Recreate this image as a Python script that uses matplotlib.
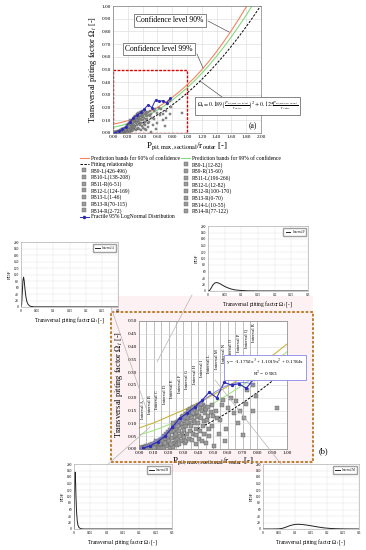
import matplotlib.pyplot as plt
import numpy as np
from matplotlib.lines import Line2D
from matplotlib.patches import Rectangle

plt.rcParams['font.family'] = ['Liberation Serif', 'DejaVu Serif']
plt.rcParams['mathtext.fontset'] = 'stix'

W, H = 366, 550

# ---- data ----
series_left = ['PB9-L(426-496)', 'PB10-L(138-208)', 'PB11-R(6-51)', 'PB12-L(124-169)',
               'PB13-L(1-46)', 'PB13-R(70-115)', 'PB14-R(2-72)']
series_right = ['PB9-L(12-82)', 'PB9-R(15-60)', 'PB11-L(196-266)', 'PB12-L(12-82)',
                'PB12-R(100-170)', 'PB13-R(0-70)', 'PB14-L(10-55)', 'PB14-R(77-122)']

pit_x = [0.005, 0.01, 0.015, 0.02, 0.025, 0.03, 0.035, 0.04, 0.045, 0.012, 0.028, 0.038, 0.048,
         0.055, 0.06, 0.065, 0.07, 0.075, 0.08, 0.085, 0.09, 0.095, 0.058, 0.072, 0.088, 0.098,
         0.105, 0.11, 0.115, 0.12, 0.125, 0.13, 0.135, 0.14, 0.145, 0.102, 0.118, 0.132, 0.148, 0.142,
         0.152, 0.155, 0.16, 0.165, 0.17, 0.175, 0.18, 0.185, 0.19, 0.195, 0.158, 0.172, 0.188, 0.198, 0.178,
         0.202, 0.205, 0.21, 0.215, 0.22, 0.225, 0.23, 0.235, 0.24, 0.245, 0.208, 0.228, 0.238, 0.248, 0.218, 0.232,
         0.252, 0.255, 0.26, 0.265, 0.27, 0.275, 0.28, 0.285, 0.29, 0.295, 0.258, 0.268, 0.278, 0.288, 0.298,
         0.272, 0.262, 0.292,
         0.302, 0.305, 0.31, 0.315, 0.32, 0.325, 0.33, 0.335, 0.34, 0.345, 0.308, 0.318, 0.328, 0.338, 0.348,
         0.312, 0.342, 0.322,
         0.352, 0.355, 0.36, 0.365, 0.37, 0.375, 0.38, 0.385, 0.39, 0.395, 0.358, 0.368, 0.378, 0.388, 0.398,
         0.362, 0.382,
         0.402, 0.405, 0.41, 0.415, 0.42, 0.425, 0.43, 0.435, 0.44, 0.445, 0.408, 0.418, 0.428, 0.438, 0.448,
         0.455, 0.46, 0.465, 0.47, 0.475, 0.49, 0.485, 0.495, 0.452, 0.468,
         0.51, 0.52, 0.53, 0.55, 0.56, 0.58, 0.59, 0.60, 0.62, 0.64, 0.655, 0.67, 0.68, 0.70, 0.71, 0.72,
         0.73, 0.77, 0.77, 0.79, 0.93, 0.50, 0.54, 0.57]
pit_y = [0.000, 0.002, 0.001, 0.004, 0.002, 0.006, 0.003, 0.008, 0.004, 0.005, 0.001, 0.002, 0.010,
         0.006, 0.012, 0.003, 0.009, 0.016, 0.005, 0.012, 0.020, 0.008, 0.001, 0.002, 0.003, 0.015,
         0.010, 0.022, 0.004, 0.015, 0.028, 0.008, 0.020, 0.035, 0.012, 0.002, 0.030, 0.003, 0.026, 0.005,
         0.018, 0.040, 0.008, 0.030, 0.050, 0.015, 0.038, 0.060, 0.022, 0.045, 0.002, 0.004, 0.010, 0.068, 0.025,
         0.030, 0.055, 0.075, 0.012, 0.042, 0.065, 0.085, 0.025, 0.050, 0.090, 0.004, 0.008, 0.070, 0.035, 0.020, 0.100,
         0.060, 0.080, 0.105, 0.040, 0.070, 0.095, 0.115, 0.030, 0.060, 0.085, 0.015, 0.110, 0.050, 0.125, 0.130,
         0.020, 0.090, 0.100,
         0.045, 0.075, 0.110, 0.135, 0.090, 0.060, 0.120, 0.145, 0.100, 0.070, 0.025, 0.030, 0.150, 0.040, 0.130,
         0.125, 0.155, 0.105,
         0.090, 0.120, 0.150, 0.060, 0.110, 0.135, 0.160, 0.080, 0.125, 0.145, 0.035, 0.165, 0.100, 0.055, 0.170,
         0.140, 0.020,
         0.100, 0.130, 0.160, 0.070, 0.120, 0.150, 0.090, 0.170, 0.110, 0.140, 0.040, 0.175, 0.030, 0.060, 0.165,
         0.155, 0.114, 0.130, 0.080, 0.050, 0.090, 0.145, 0.170, 0.025, 0.165,
         0.010, 0.150, 0.120, 0.114, 0.170, 0.030, 0.080, 0.160, 0.200, 0.140, 0.186, 0.100, 0.147, 0.055, 0.120, 0.177,
         0.232, 0.147, 0.250, 0.206, 0.160, 0.130, 0.060, 0.190]

# fitting relationship shown in the chart
fit_a, fit_b = 0.189, 0.125

# prediction bands, panel (a)
band_x = [0.0, 0.1, 0.2, 0.3, 0.4, 0.5, 0.6, 0.7, 0.8, 0.9, 1.0,
          1.1, 1.2, 1.3, 1.4, 1.5, 1.6, 1.7, 1.8, 1.9, 2.0]
band90 = [0.070, 0.081, 0.097, 0.117, 0.140, 0.169, 0.201, 0.238, 0.280, 0.327, 0.378,
          0.435, 0.498, 0.567, 0.641, 0.722, 0.807, 0.897, 0.992, 1.092, 1.196]
band99 = [0.045, 0.057, 0.074, 0.095, 0.119, 0.148, 0.180, 0.217, 0.259, 0.305, 0.355,
          0.410, 0.470, 0.535, 0.604, 0.679, 0.758, 0.841, 0.928, 1.020, 1.116]

# prediction bands, panel (b)
bandb_x = [0.0, 0.1, 0.2, 0.3, 0.4, 0.5, 0.6, 0.7, 0.8, 0.9, 1.0]
bandb90 = [0.082, 0.102, 0.127, 0.152, 0.180, 0.211, 0.245, 0.281, 0.321, 0.364, 0.410]
bandb99 = [0.055, 0.072, 0.095, 0.120, 0.147, 0.178, 0.212, 0.249, 0.289, 0.333, 0.380]

intervals = ['A', 'B', 'C', 'D', 'E', 'F', 'G', 'H', 'I', 'L', 'M', 'N', 'O', 'P', 'Q', 'R']
frac_x = [0.025, 0.075, 0.125, 0.175, 0.225, 0.275, 0.325, 0.375, 0.425, 0.475,
          0.525, 0.575, 0.625, 0.675, 0.725, 0.775]
frac_y = [0.003, 0.012, 0.028, 0.050, 0.085, 0.120, 0.140, 0.163, 0.190, 0.222,
          0.200, 0.260, 0.250, 0.255, 0.237, 0.273]
cubic = [-1.1792, 1.1019, 0.1784]

# PDF insets
pdfA_x = [0, 0.002, 0.004, 0.006, 0.008, 0.010, 0.012, 0.015, 0.018, 0.022, 0.026, 0.03, 0.04, 0.3]
pdfA_y = [0, 8, 45, 82, 92, 80, 58, 32, 17, 8, 4, 2, 0.5, 0]
pdfB_x = [0, 0.001, 0.002, 0.003, 0.004, 0.005, 0.006, 0.008, 0.010, 0.012, 0.015, 0.02, 0.03, 0.3]
pdfB_y = [0, 60, 150, 175, 170, 140, 100, 50, 25, 12, 5, 1, 0, 0]
pdfF_x = [0, 0.005, 0.01, 0.015, 0.02, 0.025, 0.03, 0.035, 0.04, 0.05, 0.06, 0.07, 0.08, 0.1, 0.12, 0.15, 0.3]
pdfF_y = [0, 2, 10, 19, 24.5, 26, 25, 23, 20, 14, 9.5, 6, 3.5, 1.5, 0.5, 0.1, 0]
pdfM_x = [0, 0.03, 0.05, 0.06, 0.07, 0.08, 0.09, 0.1, 0.11, 0.12, 0.13, 0.15, 0.17, 0.19, 0.21, 0.23, 0.26, 0.3]
pdfM_y = [0, 0, 0.5, 2, 5, 9, 12, 14, 14.5, 14, 13, 10, 6.5, 3.5, 1.7, 0.8, 0.2, 0]

# ---- figure ----
fig = plt.figure(figsize=(W / 100, H / 100), dpi=100)


def px_axes(x0, y0, x1, y1, **kw):
    return fig.add_axes([x0 / W, 1 - y1 / H, (x1 - x0) / W, (y1 - y0) / H], **kw)


def fxy(x, y):
    return x / W, 1 - y / H


def fig_line(p0, p1, **kw):
    (x0, y0), (x1, y1) = fxy(*p0), fxy(*p1)
    fig.add_artist(Line2D([x0, x1], [y0, y1], transform=fig.transFigure, **kw))


def style_axes(ax):
    for s in ax.spines.values():
        s.set_color('#808080')
        s.set_linewidth(0.5)
    ax.tick_params(length=0, labelsize=3.8, pad=1.5)
    ax.grid(True, color='#d9d9d9', lw=0.4)
    ax.set_axisbelow(True)


sq = dict(ls='none', marker='s', mfc='#9b9b9b', mec='#505050', mew=0.25)
c90, c99 = '#f4845f', '#80dc80'
blue = '#2b2bb8'

# pink background of the zoom region
fig.add_artist(Rectangle(fxy(111, 472), 202 / W, 176 / H, transform=fig.transFigure,
                         fc='#fdf1f3', ec='none', zorder=-1))

# panel (a)
ax_a = px_axes(113, 6, 261, 133)
style_axes(ax_a)
fx = np.linspace(0, 2, 81)
ax_a.plot(band_x, band90, color=c90, lw=0.8)
ax_a.plot(band_x, band99, color=c99, lw=0.8)
ax_a.plot(fx, fit_a * fx ** 2 + fit_b * fx, color='k', ls='--', lw=0.7, dashes=(2.5, 1.5))
ax_a.plot(pit_x, pit_y, ms=1.8, **sq)
ax_a.plot(frac_x, frac_y, color=blue, lw=0.7, marker='o', ms=1.2)
ax_a.add_patch(Rectangle((0, 0), 1.0, 0.5, fill=False, ec='#e00000', lw=1.0, ls=(0, (2, 1))))
ax_a.set_xlim(0, 2)
ax_a.set_ylim(0, 1)
ax_a.set_xticks(np.arange(0, 2.01, 0.2))
ax_a.set_yticks(np.arange(0, 1.01, 0.1))
ax_a.xaxis.set_major_formatter('{x:.2f}')
ax_a.yaxis.set_major_formatter('{x:.2f}')
ax_a.set_ylabel(r'Transversal pitting factor $\Omega_t$ [-]', fontsize=6, labelpad=2)
ax_a.set_xlabel(r'P$_{\rm pit,max,sectional}$/r$_{\rm outer}$ [-]', fontsize=6.5, labelpad=1)
ax_a.text(1.89, 0.055, '(a)', fontsize=5.5, ha='center', va='center')

box = dict(boxstyle='square,pad=0.3', fc='white', ec='#555555', lw=0.5)
fig.text(*fxy(170, 20.5), 'Confidence level 90%', fontsize=5.5, ha='center', va='center', bbox=box)
fig.text(*fxy(159, 49), 'Confidence level 99%', fontsize=5.5, ha='center', va='center', bbox=box)
fig.text(*fxy(247.5, 106),
         r'$\Omega_t = 0.189\left(\frac{P_{pit,max,sectional}}{r_{outer}}\right)^2 + 0.125\frac{P_{pit,max,sectional}}{r_{outer}}$',
         fontsize=4.2, ha='center', va='center', bbox=dict(boxstyle='square,pad=0.4', fc='white',
                                                          ec='#555555', lw=0.5))
fig_line((208, 21), (229, 32), color='#555555', lw=0.5)
fig_line((197, 54), (203, 68), color='#555555', lw=0.5)
fig_line((222, 97), (200, 81), color='#555555', lw=0.5)

# legend
lh = [Line2D([], [], color=c90, lw=0.8), Line2D([], [], color='k', ls='--', lw=0.7, dashes=(2.5, 1.5))]
lh += [Line2D([], [], ms=2.2, **sq) for _ in series_left]
lh += [Line2D([], [], color=blue, lw=0.7, marker='o', ms=1.5)]
lh += [Line2D([], [], color=c99, lw=0.8)]
lh += [Line2D([], [], ms=2.2, **sq) for _ in series_right]
ll = (['Prediction bands for 90% of confidence', 'Fitting relationship'] + series_left +
      ['Fractile 95% LogNormal Distribution', 'Prediction bands for 99% of confidence'] + series_right)
fig.legend(lh, ll, ncol=2, loc='upper left', bbox_to_anchor=fxy(80, 156), fontsize=4,
           frameon=False, handlelength=1.6, handletextpad=0.3, columnspacing=0.3,
           labelspacing=0.16, borderpad=0, borderaxespad=0)

# panel (b)
ax_b = px_axes(139, 321, 287, 449, zorder=1)
style_axes(ax_b)
ax_b.grid(False)
ax_b.set_yticks(np.arange(0, 0.501, 0.05))
ax_b.set_xticks(np.arange(0, 1.001, 0.1))
ax_b.grid(True, axis='y', color='#d9d9d9', lw=0.4)
ax_b.xaxis.set_major_formatter('{x:.2f}')
ax_b.yaxis.set_major_formatter('{x:.2f}')
for i, name in enumerate(intervals):
    ax_b.axvline(0.05 * (i + 1), color='#8c8c8c', lw=0.4, zorder=0.5)
    ax_b.text(0.025 + 0.05 * i, 0.19 + 0.02 * i, 'Interval ' + name, rotation=90,
              fontsize=3.3, ha='center', va='top')
ax_b.plot(bandb_x, bandb90, color='#c8b43c', lw=0.8)
ax_b.plot(bandb_x, bandb99, color='#a6e488', lw=0.8)
fb = np.linspace(0, 1, 41)
ax_b.plot(fb, fit_a * fb ** 2 + fit_b * fb, color='k', ls='--', lw=0.7, dashes=(2.5, 1.5))
ax_b.plot(pit_x, pit_y, ms=2.3, **sq)
cx = np.linspace(0, 0.775, 40)
ax_b.plot(cx, cubic[0] * cx ** 3 + cubic[1] * cx ** 2 + cubic[2] * cx, color='#7878e8', lw=0.6)
ax_b.plot(frac_x, frac_y, color=blue, lw=0.8, marker='o', ms=1.4)
ax_b.set_xlim(0, 1)
ax_b.set_ylim(0, 0.5)
ax_b.set_ylabel(r'Transversal pitting factor $\Omega_t$ [-]', fontsize=6, labelpad=2)
ax_b.set_xlabel(r'P$_{\rm pit,max,sectional}$/r$_{\rm outer}$ [-]', fontsize=6.5, labelpad=0)
fig.text(*fxy(226, 368), 'y = -1.1792x$^3$ + 1.1019x$^2$ + 0.1784x\nR$^2$ = 0.983',
         fontsize=3.8, ha='left', va='center', ma='center', zorder=5,
         bbox=dict(boxstyle='square,pad=0.3', fc='white', ec='#8a8ae6', lw=0.6))
fig.text(*fxy(323, 451), '(b)', fontsize=6, ha='center', va='center')

# dashed frame around the zoom
fig.add_artist(Rectangle(fxy(111, 462), 202 / W, 150 / H, transform=fig.transFigure,
                         fill=False, ec='#b8741e', lw=1.3, ls=(0, (1.5, 1)), zorder=2))

# leader lines to the PDF insets
lc = dict(color='#b4b4b4', lw=0.5, zorder=2)
fig_line((107, 296), (146, 408), **lc)
fig_line((192, 295), (157, 362), **lc)
fig_line((88, 482), (150, 427), **lc)
fig_line((292, 478), (215, 380), **lc)


def pdf_inset(rect, xs, ys, name):
    ax = px_axes(*rect, zorder=3)
    for s in ax.spines.values():
        s.set_color('#a0a0a0')
        s.set_linewidth(0.4)
    ax.plot(xs, ys, color='#222222', lw=0.7, label='Interval ' + name)
    ax.set_xlim(0, 0.3)
    ax.set_ylim(0, 200)
    ax.set_xticks([0, 0.05, 0.1, 0.15, 0.2, 0.25, 0.3])
    ax.set_xticklabels(['0', '0.05', '0.1', '0.15', '0.2', '0.25', '0.3'])
    ax.set_yticks(range(0, 201, 20))
    ax.grid(True, color='#e2e2e2', lw=0.3)
    ax.tick_params(length=0, labelsize=2.6, pad=1.5)
    ax.set_ylabel('PDF', fontsize=3.6, labelpad=1.5)
    ax.set_xlabel(r'Transversal pitting factor $\Omega_t$ [-]', fontsize=4, labelpad=1.5)
    ax.legend(loc='upper right', fontsize=2.2, handlelength=1.5, fancybox=False,
              edgecolor='#a0a0a0', framealpha=1, borderpad=0.7)
    return ax


pdf_inset((21, 242, 118, 307), pdfA_x, pdfA_y, 'A')
pdf_inset((208, 226, 308, 291), pdfF_x, pdfF_y, 'F')
pdf_inset((74, 464, 172, 529), pdfB_x, pdfB_y, 'B')
pdf_inset((263, 464, 359, 529), pdfM_x, pdfM_y, 'M')

fig.savefig('out.png', dpi=100)
